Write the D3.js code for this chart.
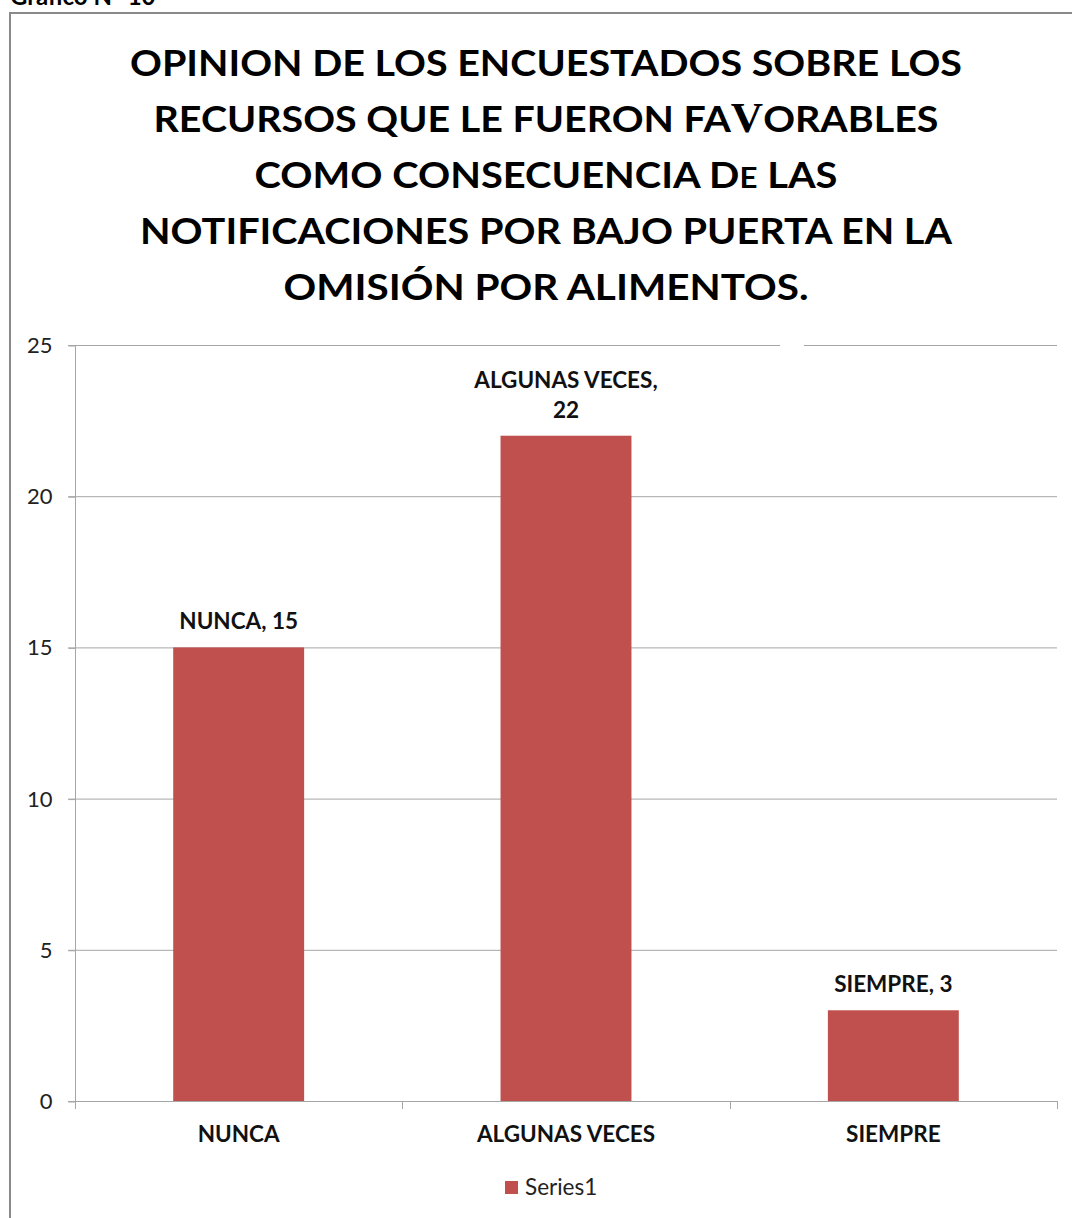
<!DOCTYPE html>
<html><head><meta charset="utf-8">
<script src="https://cdn.jsdelivr.net/npm/d3@7"></script>
<style>body{margin:0;background:#fff}svg{display:block}</style>
</head><body>
<script>
const categories = ["NUNCA", "ALGUNAS VECES", "SIEMPRE"];
const values = [15, 22, 3];
const yTicks = [0, 5, 10, 15, 20, 25];
const seriesName = "Series1";
const titleLines = ["OPINION DE LOS ENCUESTADOS SOBRE LOS", "RECURSOS QUE LE FUERON FA|V|ORABLES", "COMO CONSECUENCIA D|E| LAS", "NOTIFICACIONES POR BAJO PUERTA EN LA", "OMISIÓN POR ALIMENTOS."];

const W = 1072, H = 1218;
const svg = d3.select("body").append("svg").attr("width", W).attr("height", H);
const font = "Lato, 'Open Sans', sans-serif";

// cut-off caption
svg.append("text").attr("x", 10).attr("y", 5).attr("font-family", font).attr("font-weight", 700)
  .attr("font-size", 24).text("Gráfico N° 10");

// border
svg.append("rect").attr("x", 10).attr("y", 13).attr("width", W + 20).attr("height", H + 20)
  .attr("fill", "none").attr("stroke", "#8a8a8a").attr("stroke-width", 2);

// title
const tWidths = [832, 785, 583, 812, 525];
titleLines.forEach((t, i) => {
  const txt = svg.append("text").attr("x", 546).attr("y", 76 + i * 56).attr("text-anchor", "middle")
    .attr("font-family", font).attr("font-weight", 700).attr("font-size", 37).attr("fill", "#000")
    .attr("textLength", tWidths[i]).attr("lengthAdjust", "spacingAndGlyphs");
  t.split("|").forEach((part, k) => {
    const sp = txt.append("tspan").text(part);
    if (k === 1 && part === "V") sp.attr("font-family", "'Liberation Serif', serif").attr("font-size", 42);
    if (k === 1 && part === "E") sp.attr("font-size", 29);
  });
});

const x = d3.scaleBand().domain(categories).range([75, 1057]).paddingInner(0.6).paddingOuter(0.3);
const y = d3.scaleLinear().domain([0, 25]).range([1101, 345]);

// gridlines
svg.append("g").selectAll("line").data(yTicks.filter(d => d > 0)).join("line")
  .attr("x1", 68).attr("x2", 1057).attr("y1", d => y(d) + 0.5).attr("y2", d => y(d) + 0.5)
  .attr("stroke", "#a6a6a6").attr("stroke-width", 1);
svg.append("rect").attr("x", 780).attr("y", y(25) - 3).attr("width", 24).attr("height", 7).attr("fill", "#fff");

// y axis
const yAxis = svg.append("g").attr("transform", "translate(75.5,0.5)")
  .call(d3.axisLeft(y).tickValues(yTicks).tickSize(7).tickPadding(16));
yAxis.select(".domain").attr("stroke", "#a6a6a6").attr("d", `M0,${y(0)}V${y(25)}`);
yAxis.selectAll(".tick line").attr("stroke", "#a6a6a6");
yAxis.selectAll("text").attr("font-family", font).attr("font-size", 22).attr("fill", "#222");

// bars
svg.append("g").selectAll("rect").data(values).join("rect")
  .attr("x", (d, i) => x(categories[i])).attr("width", x.bandwidth())
  .attr("y", d => y(d)).attr("height", d => y(0) - y(d)).attr("fill", "#C0504D");

// x axis
const bounds = [75, 75 + x.step(), 75 + 2 * x.step(), 1057];
svg.append("line").attr("x1", 68).attr("x2", 1057).attr("y1", y(0) + 0.5).attr("y2", y(0) + 0.5)
  .attr("stroke", "#a6a6a6");
svg.append("g").selectAll("line").data(bounds).join("line")
  .attr("x1", d => Math.round(d) + 0.5).attr("x2", d => Math.round(d) + 0.5)
  .attr("y1", y(0)).attr("y2", y(0) + 8).attr("stroke", "#a6a6a6");
svg.append("g").selectAll("text").data(categories).join("text")
  .attr("x", d => x(d) + x.bandwidth() / 2).attr("y", 1142).attr("text-anchor", "middle")
  .attr("font-family", font).attr("font-weight", 700).attr("font-size", 22.5).attr("fill", "#111").text(d => d);

// data labels
values.forEach((v, i) => {
  const cx = x(categories[i]) + x.bandwidth() / 2;
  const lines = categories[i] === "ALGUNAS VECES" ? [categories[i] + ",", String(v)] : [categories[i] + ", " + v];
  lines.forEach((l, j) => {
    svg.append("text").attr("x", cx).attr("y", y(v) - 18 - (lines.length - 1 - j) * 30)
      .attr("text-anchor", "middle").attr("font-family", font).attr("font-weight", 700)
      .attr("font-size", 22.5).attr("fill", "#111").text(l);
  });
});

// legend
svg.append("rect").attr("x", 505).attr("y", 1181).attr("width", 13).attr("height", 13).attr("fill", "#C0504D");
svg.append("text").attr("x", 525).attr("y", 1195).attr("font-family", font).attr("font-size", 22.5)
  .attr("fill", "#222").text(seriesName);
</script>
</body></html>
